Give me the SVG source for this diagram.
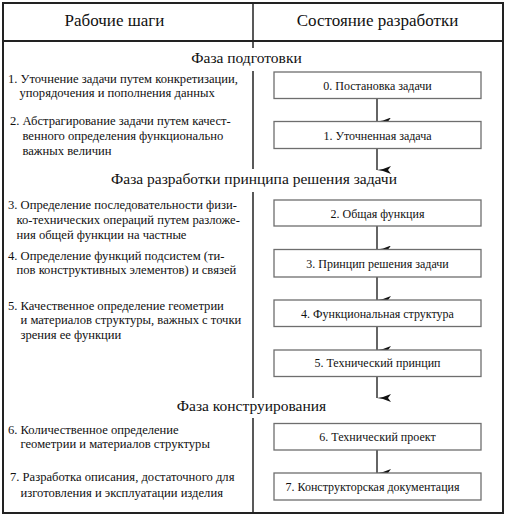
<svg xmlns="http://www.w3.org/2000/svg" width="506" height="518" viewBox="0 0 506 518">
<defs>
<style>
text{fill:#111;font-family:'Liberation Serif','Times New Roman',Tinos,'DejaVu Serif',serif}
.h{font-size:17px;text-anchor:middle}
.p{font-size:15.5px;text-anchor:middle}
.t{font-size:12.6px}
.b{font-size:12px;text-anchor:middle}
.box{fill:#fff;stroke:#6e6e6e;stroke-width:1.3}
.frame{fill:none;stroke:#222;stroke-width:2}
.div{stroke:#222;stroke-width:1.5}
.con{stroke:#111;stroke-width:1.3;fill:none}
</style>
<marker id="ah" viewBox="0 0 8 14" refX="4" refY="14" markerWidth="8" markerHeight="14" markerUnits="userSpaceOnUse" orient="auto-start-reverse">
<path d="M0,0 L4,3 L8,0 L5,8 L4,14 L3,8 Z" fill="#111"/>
</marker>
</defs>
<rect width="506" height="518" fill="#fff"/>
<g id="frame">
<rect class="frame" x="3" y="3" width="500" height="510"/>
<line class="frame" x1="3" y1="41" x2="503" y2="41"/>
<line class="div" x1="253" y1="3" x2="253" y2="48"/>
<line class="div" x1="253" y1="71" x2="253" y2="169"/>
<line class="div" x1="253" y1="192" x2="253" y2="398"/>
<line class="div" x1="253" y1="418" x2="253" y2="513"/>
<text class="h" x="114.5" y="26">Рабочие шаги</text>
<text class="h" x="377.5" y="26">Состояние разработки</text>
<text class="p" x="246.5" y="63">Фаза подготовки</text>
<text class="p" x="254" y="184">Фаза разработки принципа решения задачи</text>
<text class="p" x="251.5" y="411">Фаза конструирования</text>
</g>
<g id="steps">
<text class="t" x="8" y="83">1. Уточнение задачи путем конкретизации,</text>
<text class="t" x="19.5" y="97">упорядочения и пополнения данных</text>
<text class="t" x="10" y="125">2. Абстрагирование задачи путем качест-</text>
<text class="t" x="22.5" y="139.5">венного определения функционально</text>
<text class="t" x="22.5" y="154.5">важных величин</text>
<text class="t" x="8" y="208.5">3. Определение последовательности физи-</text>
<text class="t" x="16.5" y="224">ко-технических операций путем разложе-</text>
<text class="t" x="16.5" y="238.5">ния общей функции на частные</text>
<text class="t" x="8" y="260">4. Определение функций подсистем (ти-</text>
<text class="t" x="16.5" y="274">пов конструктивных элементов) и связей</text>
<text class="t" x="8" y="310">5. Качественное определение геометрии</text>
<text class="t" x="20.5" y="324">и материалов структуры, важных с точки</text>
<text class="t" x="20.5" y="338.5">зрения ее функции</text>
<text class="t" x="8" y="433.5">6. Количественное определение</text>
<text class="t" x="20.5" y="447.5">геометрии и материалов структуры</text>
<text class="t" x="10" y="481">7. Разработка описания, достаточного для</text>
<text class="t" x="20.5" y="497">изготовления и эксплуатации изделия</text>
</g>
<g id="connectors">
<line class="con" x1="377" y1="98.5" x2="377" y2="121.5" marker-end="url(#ah)"/>
<line class="con" x1="377" y1="148.5" x2="377" y2="170" marker-end="url(#ah)"/>
<line class="con" x1="377" y1="226" x2="377" y2="249.5" marker-end="url(#ah)"/>
<line class="con" x1="377" y1="277" x2="377" y2="300" marker-end="url(#ah)"/>
<line class="con" x1="377" y1="326.5" x2="377" y2="350" marker-end="url(#ah)"/>
<line class="con" x1="377" y1="376.5" x2="377" y2="398" marker-end="url(#ah)"/>
<line class="con" x1="377" y1="450" x2="377" y2="473" marker-end="url(#ah)"/>
</g>
<g id="n0"><rect class="box" x="274" y="72" width="207" height="26.5"/><text class="b" x="377.5" y="90">0. Постановка задачи</text></g>
<g id="n1"><rect class="box" x="274" y="121.5" width="207" height="27"/><text class="b" x="377.5" y="139.5">1. Уточненная задача</text></g>
<g id="n2"><rect class="box" x="274" y="200" width="207" height="26"/><text class="b" x="377.5" y="217.5">2. Общая функция</text></g>
<g id="n3"><rect class="box" x="274" y="249.5" width="207" height="27.5"/><text class="b" x="377.5" y="267.5">3. Принцип решения задачи</text></g>
<g id="n4"><rect class="box" x="274" y="300" width="207" height="26.5"/><text class="b" x="377.5" y="318">4. Функциональная структура</text></g>
<g id="n5"><rect class="box" x="274" y="350" width="207" height="26.5"/><text class="b" x="377.5" y="367">5. Технический принцип</text></g>
<g id="n6"><rect class="box" x="274" y="423.5" width="207" height="26.5"/><text class="b" x="377.5" y="441">6. Технический проект</text></g>
<g id="n7"><rect class="box" x="274" y="473" width="207" height="27"/><text class="b" x="372.5" y="491">7. Конструкторская документация</text></g>
</svg>
